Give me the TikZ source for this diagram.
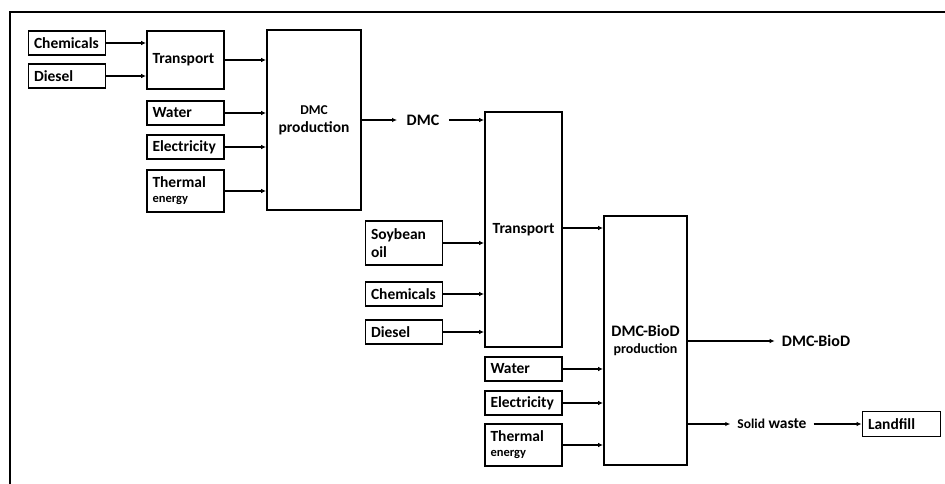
\documentclass[tikz,border=0pt]{standalone}
\usepackage{fontspec}
\setmainfont{Carlito}
\usetikzlibrary{arrows.meta}
\begin{document}
\begin{tikzpicture}[x=1pt,y=-1pt,
  lbl/.style={font=\fontsize{15.5}{18}\selectfont\bfseries},
  inbox/.style={draw, line width=1.8pt, lbl, inner xsep=5.5pt, inner ysep=0pt,
    text width=66pt, align=left, minimum height=24.5pt},
  bigbox/.style={draw, line width=1.8pt, lbl, inner sep=0pt, align=center},
  freelbl/.style={lbl, inner ysep=2pt},
  arr/.style={line width=1.6pt, -{Latex[length=5pt,width=4.5pt]}},
]
\useasboundingbox (0,0) rectangle (945,484);
\draw[line width=1.8pt] (10,484) -- (10,12) -- (945,12);

% first stage
\node[inbox] (chemA) at (67,43) {Chemicals};
\node[inbox] (dieselA) at (67,76) {Diesel};
\node[inbox, minimum height=58pt] (trA) at (185.5,60) {Transport};
\node[inbox] (waterA) at (185.5,113) {Water};
\node[inbox] (elecA) at (185.5,147) {Electricity};
\node[inbox, minimum height=42pt] (thermA) at (185.5,191)
  {Thermal\\[-3pt]{\fontsize{12.5}{14}\selectfont energy}};
\node[bigbox, minimum width=94pt, minimum height=180pt] (dmcp) at (314,120)
  {{\fontsize{13.5}{16}\selectfont DMC}\\production};
\node[freelbl, font=\fontsize{16}{18}\selectfont\bfseries, inner xsep=9.5pt] (dmc) at (423,120) {DMC};

% second stage
\node[bigbox, minimum width=77pt, minimum height=235pt] (trB) at (523.5,229.5) {Transport};
\node[inbox, minimum height=44pt] (soy) at (404,243) {Soybean\\oil};
\node[inbox] (chemB) at (404,294) {Chemicals};
\node[inbox] (dieselB) at (404,332) {Diesel};
\node[inbox] (waterB) at (523.5,369) {Water};
\node[inbox] (elecB) at (523.5,403) {Electricity};
\node[inbox, minimum height=42pt] (thermB) at (523.5,445)
  {Thermal\\[-3pt]{\fontsize{12.5}{14}\selectfont energy}};
\node[bigbox, minimum width=83pt, minimum height=249pt] (bio) at (645.5,340.5)
  {{\fontsize{16}{18}\selectfont DMC-BioD}\\[-1pt]{\fontsize{14}{16}\selectfont production}};
\node[freelbl, font=\fontsize{16}{18}\selectfont\bfseries, inner xsep=7pt] (bioout) at (816,341) {DMC-BioD};
\node[freelbl, inner xsep=7pt] (waste) at (772,424)
  {{\fontsize{13.5}{16}\selectfont Solid} waste};
\node[inbox, text width=67pt, minimum height=25pt] (land) at (901.5,424) {Landfill};

% connectors
\draw[arr] (chemA.east) -- (chemA.east -| trA.west);
\draw[arr] (dieselA.east) -- (dieselA.east -| trA.west);
\draw[arr] (trA.east) -- (trA.east -| dmcp.west);
\draw[arr] (waterA.east) -- (waterA.east -| dmcp.west);
\draw[arr] (elecA.east) -- (elecA.east -| dmcp.west);
\draw[arr] (thermA.east) -- (thermA.east -| dmcp.west);
\draw[arr] (dmcp.east |- dmc.west) -- (dmc.west);
\draw[arr] (dmc.east) -- (dmc.east -| trB.west);
\draw[arr] (soy.east) -- (soy.east -| trB.west);
\draw[arr] (chemB.east) -- (chemB.east -| trB.west);
\draw[arr] (dieselB.east) -- (dieselB.east -| trB.west);
\draw[arr] (trB.east |- 0,228) -- (bio.west |- 0,228);
\draw[arr] (waterB.east) -- (waterB.east -| bio.west);
\draw[arr] (elecB.east) -- (elecB.east -| bio.west);
\draw[arr] (thermB.east) -- (thermB.east -| bio.west);
\draw[arr] (bio.east |- bioout.west) -- (bioout.west);
\draw[arr] (bio.east |- waste.west) -- (waste.west);
\draw[arr] (waste.east) -- (land.west);
\end{tikzpicture}
\end{document}
